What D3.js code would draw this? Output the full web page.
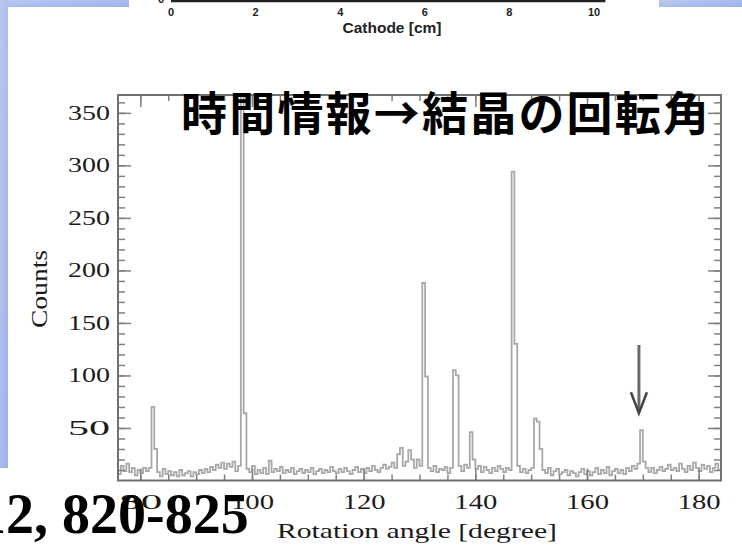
<!DOCTYPE html>
<html>
<head>
<meta charset="utf-8">
<script src="https://cdn.jsdelivr.net/npm/d3@7"></script>
<style>
html, body { margin: 0; padding: 0; background: #fff; }
svg { display: block; }
</style>
</head>
<body>
<svg id="chart" width="742" height="547"></svg>
<script>
// histogram of rotation angle, bins of 0.5 degree starting at 76 degree
var binStart = 76;
var binWidth = 0.5;
var counts = [
	6, 14, 9, 16, 8, 12, 5, 10, 7, 12,        // 76 - 80.5
	9, 12, 70, 30, 8, 4, 11, 6, 9, 5,         // 81 - 85.5
	8, 4, 10, 5, 7, 9, 4, 8, 6, 10,           // 86 - 90.5
	7, 11, 8, 13, 10, 15, 12, 17, 11, 16,     // 91 - 95.5
	13, 18, 9, 14, 420, 64, 11, 8, 14, 6,     // 96 - 100.5
	10, 7, 12, 6, 19, 8, 11, 9, 13, 7,        // 101 - 105.5
	10, 8, 12, 6, 9, 11, 7, 10, 8, 12,        // 106 - 110.5
	6, 9, 11, 7, 10, 8, 13, 9, 7, 11,         // 111 - 115.5
	8, 12, 9, 6, 10, 13, 8, 11, 7, 12,        // 116 - 120.5
	9, 14, 10, 8, 12, 15, 11, 13, 17, 12,     // 121 - 125.5
	25, 31, 14, 18, 29, 20, 12, 20, 14, 188,  // 126 - 130.5
	99, 12, 9, 14, 8, 11, 10, 13, 7, 12,      // 131 - 135.5
	105, 100, 14, 9, 15, 12, 46, 20, 11, 14,  // 136 - 140.5
	8, 13, 10, 7, 12, 9, 14, 11, 8, 12,       // 141 - 145.5
	10, 294, 130, 14, 8, 11, 7, 10, 12, 59,   // 146 - 150.5
	56, 30, 10, 7, 12, 5, 9, 11, 6, 8,        // 151 - 155.5
	10, 5, 9, 7, 4, 8, 11, 6, 9, 5,           // 156 - 160.5
	8, 12, 6, 10, 7, 13, 5, 9, 11, 7,         // 161 - 165.5
	10, 6, 12, 9, 14, 11, 16, 48, 18, 12,     // 166 - 170.5
	8, 12, 7, 10, 13, 9, 11, 15, 10, 12,      // 171 - 175.5
	9, 16, 11, 8, 14, 10, 17, 12, 9, 15,      // 176 - 180.5
	11, 14, 8, 12, 16, 10                     // 181 - 183.5
];
var xTicks = [80, 100, 120, 140, 160, 180];
var yTicks = [50, 100, 150, 200, 250, 300, 350];
var cathodeTicks = [0, 2, 4, 6, 8, 10];

// arrow marking the small peak (angle, from count, to count)
var arrowAngle = 169.3;
var arrowFrom = 129;
var arrowTo = 64;

var titleText = "時間情報→結晶の回転角";
var refText = "12, 820-825";

var svg = d3.select("#chart");

// slide background pieces
var grad = svg.append("defs").append("linearGradient")
	.attr("id", "slide")
	.attr("x1", "0").attr("y1", "0").attr("x2", "1").attr("y2", "1");
grad.append("stop").attr("offset", "0%").attr("stop-color", "#bcc8f1");
grad.append("stop").attr("offset", "100%").attr("stop-color", "#9cb1e8");

svg.append("rect").attr("x", 0).attr("y", 0).attr("width", 742).attr("height", 547).attr("fill", "#fff");
svg.append("rect").attr("x", 0).attr("y", 0).attr("width", 129).attr("height", 7).attr("fill", "url(#slide)");
svg.append("rect").attr("x", 659).attr("y", 0).attr("width", 83).attr("height", 7).attr("fill", "url(#slide)");
svg.append("rect").attr("x", 0).attr("y", 0).attr("width", 8).attr("height", 468).attr("fill", "url(#slide)");

// remains of the upper chart (cathode axis)
var xc = d3.scaleLinear().domain([0, 10]).range([171, 594]);
svg.append("line")
	.attr("x1", xc(0)).attr("x2", xc(10.27))
	.attr("y1", 1).attr("y2", 1)
	.attr("stroke", "#222").attr("stroke-width", 2.5);
svg.selectAll("text.ctick")
	.data(cathodeTicks)
	.enter().append("text")
	.attr("class", "ctick")
	.attr("x", function(d){ return xc(d); })
	.attr("y", 16)
	.attr("text-anchor", "middle")
	.attr("font-family", "Liberation Sans, Arial, sans-serif")
	.attr("font-weight", "bold")
	.attr("font-size", "11px")
	.attr("fill", "#222")
	.text(function(d){ return d; });
svg.append("text")
	.attr("x", 161).attr("y", 3)
	.attr("text-anchor", "middle")
	.attr("font-family", "Liberation Sans, Arial, sans-serif")
	.attr("font-weight", "bold")
	.attr("font-size", "11px")
	.attr("fill", "#222")
	.text("0");
svg.append("text")
	.attr("x", 392).attr("y", 33)
	.attr("text-anchor", "middle")
	.attr("font-family", "Liberation Sans, Arial, sans-serif")
	.attr("font-weight", "bold")
	.attr("font-size", "15px")
	.attr("textLength", 99)
	.attr("lengthAdjust", "spacingAndGlyphs")
	.attr("fill", "#222")
	.text("Cathode [cm]");

// main plot box
var pLeft = 118, pRight = 721, pTop = 95, pBottom = 480.5;
var x = d3.scaleLinear().domain([76, 184]).range([pLeft, pRight]);
var y = d3.scaleLinear().domain([0, 367]).range([pBottom, pTop]);

svg.append("clipPath").attr("id", "plotclip")
	.append("rect")
	.attr("x", pLeft).attr("y", pTop)
	.attr("width", pRight - pLeft).attr("height", pBottom - pTop);

// step outline of the histogram
var steps = counts.map(function(c, i){ return {a: binStart + i * binWidth, c: c}; });
steps.push({a: binStart + counts.length * binWidth, c: counts[counts.length - 1]});

var line = d3.line()
	.x(function(d){ return x(d.a); })
	.y(function(d){ return y(d.c); })
	.curve(d3.curveStepAfter);

svg.append("path")
	.datum(steps)
	.attr("clip-path", "url(#plotclip)")
	.attr("d", line)
	.attr("fill", "none")
	.attr("stroke", "#a8a8a8")
	.attr("stroke-width", 1.8);

// axes: ticks point inwards, frame drawn separately
var font = "Liberation Serif, Times New Roman, serif";

function minor(ax, values, size){
	return ax.tickValues(values).tickSize(size).tickFormat("");
}

var gl = svg.append("g").attr("transform", "translate(" + pLeft + ",0)");
gl.call(minor(d3.axisLeft(y), d3.range(10, 367, 10), -7));
var glm = svg.append("g").attr("transform", "translate(" + pLeft + ",0)")
	.call(d3.axisLeft(y).tickValues(yTicks).tickSize(-13).tickPadding(8));
glm.selectAll("text")
	.attr("font-family", font)
	.attr("font-size", "20px")
	.attr("textLength", 42)
	.attr("lengthAdjust", "spacingAndGlyphs")
	.attr("fill", "#1a1a1a");

var gr = svg.append("g").attr("transform", "translate(" + pRight + ",0)");
gr.call(minor(d3.axisRight(y), d3.range(10, 367, 10), -7));
gr.append("g").call(minor(d3.axisRight(y), yTicks, -13));

var gb = svg.append("g").attr("transform", "translate(0," + pBottom + ")");
gb.call(minor(d3.axisBottom(x), d3.range(80, 184, 5), -6));
var gbm = svg.append("g").attr("transform", "translate(0," + pBottom + ")")
	.call(d3.axisBottom(x).tickValues(xTicks).tickSize(-12).tickPadding(13));
gbm.selectAll("text")
	.attr("font-family", font)
	.attr("font-size", "22px")
	.attr("textLength", 43)
	.attr("lengthAdjust", "spacingAndGlyphs")
	.attr("fill", "#1a1a1a");

var gt = svg.append("g").attr("transform", "translate(0," + pTop + ")");
gt.call(minor(d3.axisTop(x), d3.range(80, 184, 5), -6));
gt.append("g").call(minor(d3.axisTop(x), xTicks, -12));

svg.selectAll(".domain").remove();
svg.selectAll(".tick line").attr("stroke", "#808080").attr("stroke-width", 1.5);

svg.append("rect")
	.attr("x", pLeft).attr("y", pTop)
	.attr("width", pRight - pLeft).attr("height", pBottom - pTop)
	.attr("fill", "none")
	.attr("stroke", "#707070")
	.attr("stroke-width", 2);

// axis titles
svg.append("text")
	.attr("x", 417).attr("y", 538)
	.attr("text-anchor", "middle")
	.attr("font-family", font)
	.attr("font-size", "21px")
	.attr("textLength", 280)
	.attr("lengthAdjust", "spacingAndGlyphs")
	.attr("fill", "#1a1a1a")
	.text("Rotation angle [degree]");

svg.append("text")
	.attr("transform", "translate(47,289)rotate(-90)")
	.attr("text-anchor", "middle")
	.attr("font-family", font)
	.attr("font-size", "24px")
	.attr("textLength", 78)
	.attr("lengthAdjust", "spacingAndGlyphs")
	.attr("fill", "#1a1a1a")
	.text("Counts");

// arrow on the peak near 170 degree
var ax0 = x(arrowAngle);
svg.append("line")
	.attr("x1", ax0).attr("x2", ax0)
	.attr("y1", y(arrowFrom)).attr("y2", y(arrowTo) - 2)
	.attr("stroke", "#6a6a6a").attr("stroke-width", 3);
svg.append("path")
	.attr("d", "M" + (ax0 - 8) + "," + (y(arrowTo) - 21) + "L" + ax0 + "," + y(arrowTo) + "L" + (ax0 + 8) + "," + (y(arrowTo) - 21))
	.attr("fill", "none")
	.attr("stroke", "#444").attr("stroke-width", 2.5);

// slide texts on top
svg.append("text")
	.attr("x", 181).attr("y", 130)
	.attr("font-family", "Noto Sans CJK JP, sans-serif")
	.attr("font-weight", "bold")
	.attr("font-size", "46px")
	.attr("textLength", 528)
	.attr("lengthAdjust", "spacing")
	.attr("fill", "#000")
	.text(titleText);

svg.append("text")
	.attr("x", -22).attr("y", 533)
	.attr("font-family", font)
	.attr("font-weight", "bold")
	.attr("font-size", "56px")
	.attr("fill", "#000")
	.text(refText);
</script>
</body>
</html>
